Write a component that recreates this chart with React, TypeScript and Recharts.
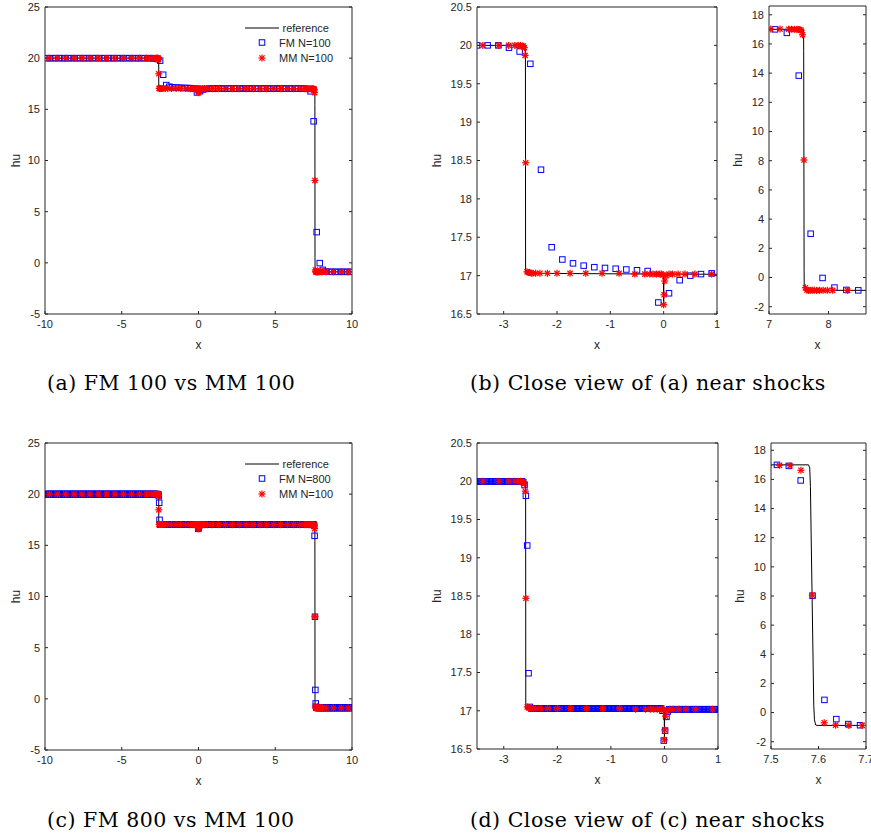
import React from 'react';
import { ComposedChart, Line, Scatter, XAxis, YAxis, Legend } from 'recharts';

// reference solution (exact Riemann solution), drawn as a polyline
const refX = [-10, -2.592, -2.589, -0.004, 0, 0.004, 0.02, 7.579, 7.5815, 7.583, 7.59, 7.5915, 7.594, 7.597, 10];
const refY = [20, 20, 17.03, 17.02, 16.6, 17.0, 17.02, 17.0, 16.8, 15.5, 0.5, -0.5, -0.85, -0.88, -0.88];

// fixed mesh results, stored as [number of cells, hu] runs on a uniform grid over [-10, 10]
const fm100Runs = [
  [35, 20.0], [1, 19.97], [1, 19.92], [1, 19.76], [1, 18.38], [1, 17.37],
  [1, 17.21], [1, 17.16], [1, 17.13], [1, 17.11], [1, 17.1], [1, 17.09], [1, 17.08], [1, 17.07], [1, 17.06],
  [1, 16.65], [1, 16.77], [1, 16.94], [1, 17.0], [1, 17.02], [31, 17.03],
  [1, 17.0], [1, 16.76], [1, 13.83], [1, 3.0], [1, -0.03], [1, -0.69], [1, -0.85], [8, -0.88],
];
const fm800Runs = [
  [294, 20.0], [1, 19.99], [1, 19.95], [1, 19.81], [1, 19.16], [1, 17.49], [1, 17.05],
  [98, 17.03], [1, 17.0], [1, 16.61], [1, 16.74], [1, 16.92], [1, 16.99],
  [296, 17.02], [1, 17.0], [1, 17.0], [1, 16.93], [1, 15.93], [1, 8.02], [1, 0.87], [1, -0.45], [1, -0.79], [1, -0.87],
  [92, -0.88],
];

// moving mesh N=100 nodes
const mmX = [
  -9.72, -9.2, -8.65, -8.11, -7.59, -7.07, -6.53, -5.98, -5.44, -4.9,
  -4.35, -3.85, -3.39, -3.09, -2.905, -2.79, -2.73, -2.686, -2.656, -2.632,
  -2.612, -2.598, -2.587, -2.562, -2.538, -2.512, -2.482, -2.45, -2.4, -2.32,
  -2.18, -2.0, -1.755, -1.46, -1.155, -0.836, -0.54, -0.354, -0.26, -0.2,
  -0.135, -0.085, -0.045, -0.015, 0.0, 0.008, 0.02, 0.045, 0.1, 0.165,
  0.27, 0.4, 0.585, 0.9, 1.3, 1.75, 2.2, 2.65, 3.1, 3.55,
  4.0, 4.45, 4.9, 5.35, 5.8, 6.2, 6.6, 6.9, 7.03, 7.185,
  7.33, 7.38, 7.43, 7.47, 7.495, 7.518, 7.54, 7.563, 7.587, 7.612,
  7.636, 7.664, 7.692, 7.725, 7.76, 7.8, 7.85, 7.91, 7.98, 8.07,
  8.32, 8.78, 9.3, 9.75,
];
const mmY = [
  20, 20, 20, 20, 20, 20, 20, 20, 20, 20,
  20, 20, 20, 20, 20, 20, 20, 20, 19.99, 19.99,
  19.97, 19.87, 18.47, 17.05, 17.04, 17.04, 17.03, 17.03, 17.03, 17.03,
  17.03, 17.03, 17.03, 17.03, 17.03, 17.03, 17.02, 17.02, 17.02, 17.02,
  17.02, 17.02, 17.02, 17.01, 16.62, 16.75, 16.93, 17.0, 17.02, 17.02,
  17.02, 17.02, 17.02, 17.02, 17.02, 17.02, 17.02, 17.02, 17.02, 17.02,
  17.02, 17.02, 17.02, 17.02, 17.02, 17.02, 17.02, 17.02, 17.02, 17.02,
  17.01, 17.01, 17.0, 17.0, 16.99, 16.97, 16.94, 16.63, 8.05, -0.7,
  -0.86, -0.88, -0.88, -0.88, -0.88, -0.88, -0.88, -0.88, -0.88, -0.88,
  -0.88, -0.88, -0.88, -0.88,
];

const fullXTicks = [-10, -5, 0, 5, 10];
const fullYTicks = [-5, 0, 5, 10, 15, 20, 25];
const zoomXTicks = [-3, -2, -1, 0, 1];
const zoomYTicks = [16.5, 17, 17.5, 18, 18.5, 19, 19.5, 20, 20.5];
const shockXTicksB = [7, 8];
const shockXTicksD = [7.5, 7.6, 7.7];
const shockYTicks = [-2, 0, 2, 4, 6, 8, 10, 12, 14, 16, 18];

type Pt = { x: number; y: number };

const fromRuns = (runs: number[][], n: number): Pt[] => {
  const dx = 20 / n;
  const out: Pt[] = [];
  let i = 0;
  runs.forEach(([count, v]) => {
    for (let k = 0; k < count; k++) {
      out.push({ x: -10 + dx * (i + 0.5), y: v });
      i++;
    }
  });
  return out;
};

const refData = refX.map((x, i) => ({ x, y: refY[i] }));
const fm100 = fromRuns(fm100Runs, 100);
const fm800 = fromRuns(fm800Runs, 800);
const mmData = mmX.map((x, i) => ({ x, y: mmY[i] }));

const BLUE = '#0000ff';
const RED = '#ff0000';
const AXIS = '#262626';
const SANS = '"Liberation Sans", Arial, sans-serif';

const Square = ({ cx, cy }: { cx?: number; cy?: number }) =>
  cx == null || cy == null ? null : (
    <rect x={cx - 2.75} y={cy - 2.75} width={5.5} height={5.5} fill="none" stroke={BLUE} strokeWidth={1} />
  );

const Star = ({ cx, cy }: { cx?: number; cy?: number }) => {
  if (cx == null || cy == null) return null;
  const r = 3.5;
  const d = 2.6;
  return (
    <g stroke={RED} strokeWidth={1.25}>
      <line x1={cx - r} y1={cy} x2={cx + r} y2={cy} />
      <line x1={cx} y1={cy - r} x2={cx} y2={cy + r} />
      <line x1={cx - d} y1={cy - d} x2={cx + d} y2={cy + d} />
      <line x1={cx - d} y1={cy + d} x2={cx + d} y2={cy - d} />
    </g>
  );
};

const LegendBox = ({ fmLabel }: { fmLabel: string }) => (
  <svg width={120} height={50} style={{ overflow: 'visible', display: 'block' }}>
    <line x1={0} y1={8} x2={34} y2={8} stroke="#000" strokeWidth={1} />
    <text x={37.5} y={11.5} fontSize={11} fontFamily={SANS} fill={AXIS}>reference</text>
    <Square cx={17} cy={22.5} />
    <text x={34} y={26.5} fontSize={11} fontFamily={SANS} fill={AXIS}>{fmLabel}</text>
    <Star cx={17} cy={38} />
    <text x={34} y={42} fontSize={11} fontFamily={SANS} fill={AXIS}>MM N=100</text>
  </svg>
);

interface PanelProps {
  plotX: number;
  plotY: number;
  plotW: number;
  plotH: number;
  xDomain: [number, number];
  yDomain: [number, number];
  xTicks: number[];
  yTicks: number[];
  fm: Pt[];
  huX: number;
  legend?: string;
}

const Y_W = 45;
const X_H = 36;
const M = { top: 10, right: 12, bottom: 10, left: 6 };
const tickStyle = { fill: AXIS, fontSize: 11, fontFamily: SANS };
const blank = () => '';

const Panel: React.FC<PanelProps> = ({ plotX, plotY, plotW, plotH, xDomain, yDomain, xTicks, yTicks, fm, huX, legend }) => {
  // top and right axes are 1px wide, they only carry the box edge and the inner ticks
  const left = plotX - Y_W - M.left;
  const top = plotY - M.top - 1;
  const width = M.left + Y_W + plotW + 1 + M.right;
  const height = M.top + 1 + plotH + X_H + M.bottom;
  return (
    <div style={{ position: 'absolute', left, top, width, height }}>
      <ComposedChart width={width} height={height} margin={M} style={{ overflow: 'visible' }}>
        <XAxis
          dataKey="x" type="number" domain={xDomain} ticks={xTicks} allowDataOverflow
          height={X_H} tickSize={-3} tickMargin={9} stroke={AXIS} tick={tickStyle}
          label={{ value: 'x', position: 'insideBottom', offset: 1, fill: AXIS, fontSize: 12, fontFamily: SANS }}
        />
        <XAxis
          xAxisId="top" orientation="top" type="number" domain={xDomain} ticks={xTicks} allowDataOverflow
          height={1} tickSize={-3} stroke={AXIS} tickFormatter={blank}
        />
        <YAxis
          dataKey="y" type="number" domain={yDomain} ticks={yTicks} allowDataOverflow
          width={Y_W} tickSize={-3} tickMargin={8} stroke={AXIS} tick={tickStyle}
          label={{
            value: 'hu', angle: -90, position: 'insideLeft', offset: huX - left - M.left,
            fill: AXIS, fontSize: 12, fontFamily: SANS, style: { textAnchor: 'middle' },
          }}
        />
        <YAxis
          yAxisId="right" orientation="right" type="number" domain={yDomain} ticks={yTicks} allowDataOverflow
          width={1} tickSize={-3} stroke={AXIS} tickFormatter={blank}
        />
        <Line
          data={refData} dataKey="y" type="linear" stroke="#000" strokeWidth={1}
          dot={false} activeDot={false} isAnimationActive={false} legendType="none"
        />
        <Scatter data={fm} dataKey="y" shape={(p: any) => <Square cx={p.cx} cy={p.cy} />} isAnimationActive={false} />
        <Scatter data={mmData} dataKey="y" shape={(p: any) => <Star cx={p.cx} cy={p.cy} />} isAnimationActive={false} />
        {legend && (
          <Legend
            layout="vertical" align="center" verticalAlign="middle"
            wrapperStyle={{ left: 245 - left, top: plotY + 13 - top, width: 120, height: 50 }}
            content={() => <LegendBox fmLabel={legend} />}
          />
        )}
      </ComposedChart>
    </div>
  );
};

const captionStyle: React.CSSProperties = {
  position: 'absolute',
  fontFamily: '"DejaVu Serif", "Liberation Serif", serif',
  fontSize: 20.5,
  letterSpacing: 0.5,
  color: '#000',
  whiteSpace: 'nowrap',
  lineHeight: '24px',
};

export default function App() {
  return (
    <div style={{ position: 'absolute', left: 0, top: 0, width: 871, height: 838, overflow: 'hidden', background: '#fff' }}>
      <Panel plotX={45} plotY={7} plotW={307} plotH={307} xDomain={[-10, 10]} yDomain={[-5, 25]}
        xTicks={fullXTicks} yTicks={fullYTicks} fm={fm100} huX={16} legend="FM N=100" />
      <Panel plotX={477} plotY={7} plotW={240} plotH={307} xDomain={[-3.5, 1]} yDomain={[16.5, 20.5]}
        xTicks={zoomXTicks} yTicks={zoomYTicks} fm={fm100} huX={437} />
      <Panel plotX={769} plotY={6} plotW={97} plotH={308} xDomain={[7, 8.63]} yDomain={[-2.5, 18.6]}
        xTicks={shockXTicksB} yTicks={shockYTicks} fm={fm100} huX={738} />
      <Panel plotX={45} plotY={443} plotW={307} plotH={307} xDomain={[-10, 10]} yDomain={[-5, 25]}
        xTicks={fullXTicks} yTicks={fullYTicks} fm={fm800} huX={16} legend="FM N=800" />
      <Panel plotX={477} plotY={443} plotW={241} plotH={306} xDomain={[-3.5, 1]} yDomain={[16.5, 20.5]}
        xTicks={zoomXTicks} yTicks={zoomYTicks} fm={fm800} huX={437} />
      <Panel plotX={771} plotY={443} plotW={95} plotH={306} xDomain={[7.5, 7.7]} yDomain={[-2.5, 18.5]}
        xTicks={shockXTicksD} yTicks={shockYTicks} fm={fm800} huX={740} />
      <div style={{ ...captionStyle, left: 47, top: 371 }}>(a) FM 100 vs MM 100</div>
      <div style={{ ...captionStyle, left: 470, top: 371 }}>(b) Close view of (a) near shocks</div>
      <div style={{ ...captionStyle, left: 47, top: 808 }}>(c) FM 800 vs MM 100</div>
      <div style={{ ...captionStyle, left: 470, top: 808 }}>(d) Close view of (c) near shocks</div>
    </div>
  );
}
